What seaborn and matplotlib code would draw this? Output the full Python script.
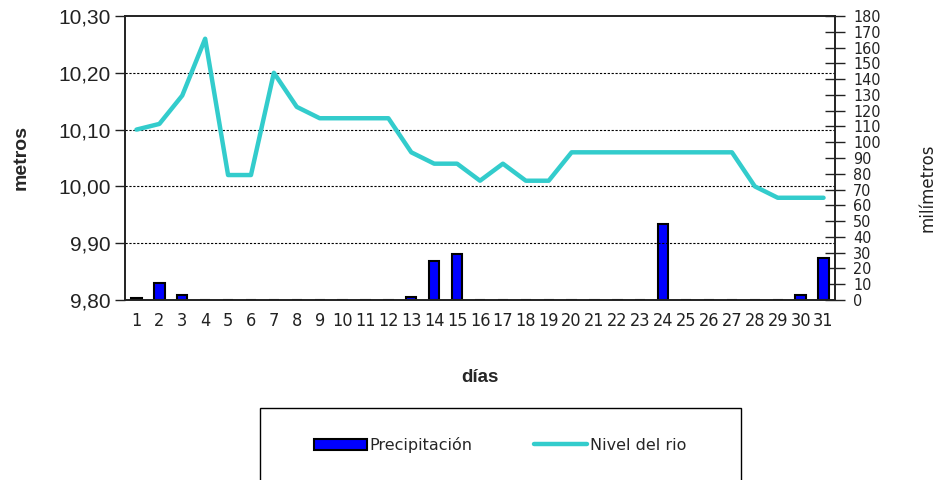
import numpy as np
import pandas as pd
import matplotlib
matplotlib.use("Agg")
import matplotlib.pyplot as plt
from matplotlib.patches import Rectangle
from matplotlib.lines import Line2D
import seaborn as sns

dias = [str(d) for d in range(1, 32)]
nivel = [10.10, 10.11, 10.16, 10.26, 10.02, 10.02, 10.20, 10.14, 10.12, 10.12,
         10.12, 10.12, 10.06, 10.04, 10.04, 10.01, 10.04, 10.01, 10.01, 10.06,
         10.06, 10.06, 10.06, 10.06, 10.06, 10.06, 10.06, 10.00, 9.98, 9.98, 9.98]
precip = [1, 11, 3, 0, 0, 0, 0, 0, 0, 0,
          0, 0, 2, 25, 29, 0, 0, 0, 0, 0,
          0, 0, 0, 48, 0, 0, 0, 0, 0, 3, 26.5]
left_ticks = [9.80, 9.90, 10.00, 10.10, 10.20, 10.30]
right_ticks = list(range(0, 181, 10))

sns.set_style("white")
plt.rcParams['font.family'] = ['Liberation Sans', 'DejaVu Sans']

df = pd.DataFrame({"dia": dias, "nivel": nivel, "precip": precip})

fig = plt.figure(figsize=(9.4, 4.8), dpi=100)
ax = fig.add_axes([125/940, 1-300/480, (835-125)/940, (300-16)/480])
ax2 = ax.twinx()

sns.barplot(data=df, x="dia", y="precip", ax=ax2, color="#0000FF",
            edgecolor="black", linewidth=1.5, width=0.45, saturation=1)
sns.lineplot(x=np.arange(len(dias)), y=nivel, ax=ax, color="#33CCCC", linewidth=3.2)

ax.set_zorder(ax2.get_zorder() + 1)
ax.patch.set_visible(False)

ax.set_xlim(-0.5, 30.5)
ax.set_ylim(9.80, 10.30)
ax2.set_ylim(0, 180)

ax.set_yticks(left_ticks)
ax.set_yticklabels([f"{v:.2f}".replace(".", ",") for v in left_ticks], fontsize=15, color="#222222")
for v in left_ticks[1:-1]:
    ax.axhline(v, color="black", linestyle=(0, (2, 1.5)), linewidth=0.8, zorder=0)

ax.set_xticks(np.arange(len(dias)))
ax.set_xticklabels(dias, fontsize=13, family='DejaVu Sans', fontstretch='condensed', color="#222222")
ax.set_xticks(np.arange(len(dias) + 1) - 0.5, minor=True)
ax.tick_params(axis='x', which='major', length=0, pad=9)
ax.tick_params(axis='x', which='minor', length=7, width=1, direction='out', color='#222222')
ax.tick_params(axis='y', length=7, width=1, direction='out', color='#222222', pad=3)

ax2.set_yticks(right_ticks)
ax2.set_yticklabels([str(v) for v in right_ticks], fontsize=11.5,
                    family='DejaVu Sans', fontstretch='condensed', color="#222222")
ax2.tick_params(axis='y', length=14, width=1, direction='inout', color='#222222', pad=6)
ax2.set_xlabel("")
ax2.set_ylabel("")

for a in (ax, ax2):
    for s in a.spines.values():
        s.set_color("#222222")
        s.set_linewidth(1.2)

ax.set_xlabel("días", fontsize=13.5, fontweight='bold', labelpad=28)
ax.set_ylabel("metros", fontsize=14, fontweight='bold', labelpad=21)
fig.text(928/940, 1-188/480, "milímetros", rotation=90, ha='center', va='center',
         fontsize=12, family=['DejaVu Sans'], color="#222222")

fig.patches.append(Rectangle((260/940, 1-490/480), (741-260)/940, (490-408)/480,
                             transform=fig.transFigure, fill=False, edgecolor="black", linewidth=1))
handles = [Rectangle((0, 0), 1, 1, facecolor="#0000FF", edgecolor="black", linewidth=1.5),
           Line2D([0], [0], color="#33CCCC", linewidth=3.2)]
fig.legend(handles, ["Precipitación", "Nivel del rio"], loc='center', ncol=2,
           bbox_to_anchor=(500/940, 1-445/480), frameon=False, handlelength=3.3,
           handletextpad=0.15, columnspacing=3.9, prop={'family': 'DejaVu Sans', 'size': 11.5})

fig.savefig("out.png", dpi=100)
